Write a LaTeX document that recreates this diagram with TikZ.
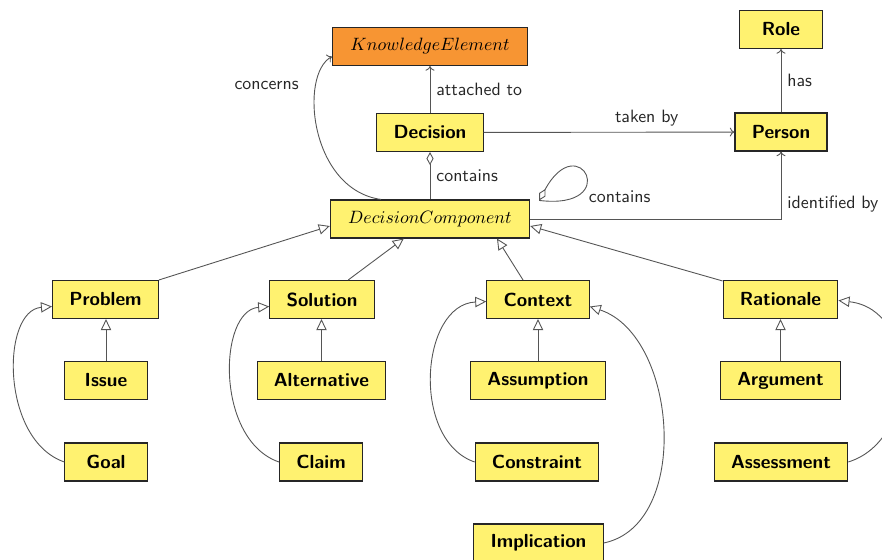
\documentclass[tikz,border=0pt]{standalone}
\usepackage{fontspec}
\usetikzlibrary{arrows.meta,calc}

\definecolor{classfill}{RGB}{255,242,112}
\definecolor{rootfill}{RGB}{247,149,51}
\definecolor{edgegray}{RGB}{85,85,85}

\tikzset{
  cls/.style={draw=black!85, line width=0.6pt, fill=classfill,
    font=\sffamily\bfseries\fontsize{10.6}{12.7}\selectfont,
    minimum height=21.3pt, minimum width=46pt, inner xsep=9.4pt},
  abstractcls/.style={cls, font=\normalfont, inner xsep=10pt},
  assoc/.style={draw=edgegray, line width=0.5pt, -{To[length=2.6pt,width=5pt]}},
  gen/.style={draw=edgegray, line width=0.5pt,
    -{Triangle[open,length=6.2pt,width=5.8pt]}},
  aggr/.style={draw=edgegray, line width=0.5pt,
    {Diamond[open,length=7.3pt,width=4pt]}-},
  lbl/.style={font=\sffamily, text=black!85},
}

\begin{document}
\begin{tikzpicture}[x=0.56pt,y=-0.56pt]
\useasboundingbox (0,0) rectangle (882,559);
\clip (0,0) rectangle (882,559);

% top part
\node[abstractcls, fill=rootfill] (KE) at (430,46.5) {$KnowledgeElement$};
\node[cls] (Role)     at (781,29.5)  {Role};
\node[cls] (Decision) at (430,132.5) {Decision};
\node[cls] (Person)   at (781,132)   {Person};
\node[abstractcls] (DC) at (430,219) {$DecisionComponent$};

% component kinds
\node[cls] (Problem)   at (105.5,299.5) {Problem};
\node[cls] (Solution)  at (322,299.5)   {Solution};
\node[cls] (Context)   at (538,299.5)   {Context};
\node[cls] (Rationale) at (780.5,299.5) {Rationale};

\node[cls] (Issue)       at (106,380.5)   {Issue};
\node[cls] (Alternative) at (321.5,380.5) {Alternative};
\node[cls] (Assumption)  at (538,380.5)   {Assumption};
\node[cls] (Argument)    at (780.5,380.5) {Argument};

\node[cls] (Goal)       at (106,462)   {Goal};
\node[cls] (Claim)      at (321,462)   {Claim};
\node[cls] (Constraint) at (537,462)   {Constraint};
\node[cls] (Assessment) at (781,462)   {Assessment};
\node[cls] (Implication) at (538.5,543) {Implication};

% associations
\draw[assoc] (Decision) -- node[lbl,right] {attached to} (KE);
\draw[aggr]  (Decision) -- node[lbl,right] {contains} (DC);
\draw[assoc] (Decision) -- node[lbl,above,pos=0.65] {taken by} (Person);
\draw[assoc] (Person) -- node[lbl,right] {has} (Role);
\draw[assoc] (DC.east) -| node[lbl,pos=0.5,above right] {identified by} (Person.south);
\draw[assoc] ($(DC.north)+(-49,0)$) .. controls +(-71,-10) and +(-33,18) ..
  node[lbl,pos=0.75,left=6pt] {concerns} ($(KE.west)+(0,10)$);

% self containment
\coordinate (DCloop) at ($(DC.north east)+(9,1)$);
\draw[aggr] (DCloop) .. controls +(40,-74) and +(84,10) ..
  node[lbl,pos=0.72,right,yshift=-2.5pt] {contains} (DCloop);

% generalisations to DecisionComponent
\draw[gen] (Problem.north east) -- ($(DC.west)+(0,7)$);
\draw[gen] (Solution) -- (DC);
\draw[gen] ($(Context.north)+(-15,0)$) -- ($(DC.south)+(67,0)$);
\draw[gen] ($(Rationale.north west)+(0,1)$) -- ($(DC.east)+(0,7)$);

% straight specialisations
\draw[gen] (Issue.north) -- (Issue.north |- Problem.south);
\draw[gen] (Alternative.north) -- (Alternative.north |- Solution.south);
\draw[gen] (Assumption.north) -- (Assumption.north |- Context.south);
\draw[gen] (Argument.north) -- (Argument.north |- Rationale.south);

% curved specialisations
\draw[gen] (Goal.west) .. controls +(-64,-22) and +(-51,4) .. ($(Problem.west)+(0,7)$);
\draw[gen] (Claim.west) .. controls +(-64,-22) and +(-51,4) .. ($(Solution.west)+(0,7)$);
\draw[gen] (Constraint.west) .. controls +(-64,-22) and +(-66,3) .. ($(Context.west)+(0,2)$);
\draw[gen] (Implication.east) .. controls +(88,-18) and +(88,29) .. ($(Context.east)+(0,7)$);
\draw[gen] (Assessment.east) .. controls +(71,-22) and +(81,9) .. ($(Rationale.east)+(0,1)$);
\end{tikzpicture}
\end{document}
